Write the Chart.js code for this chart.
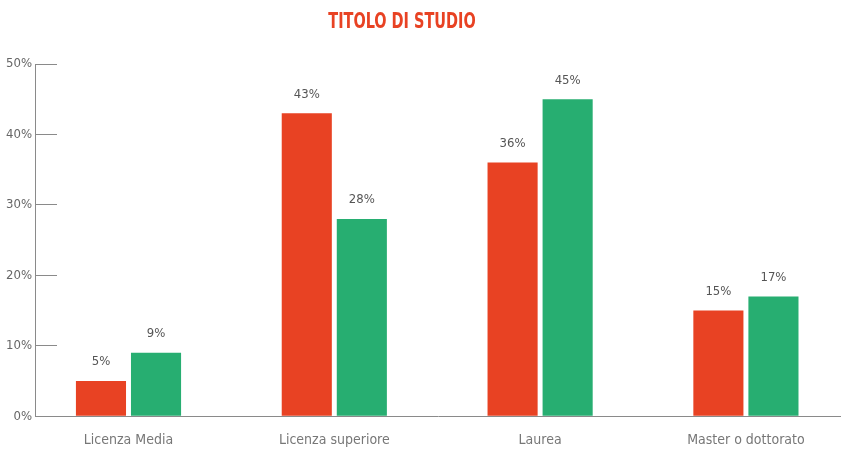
<!DOCTYPE html>
<html>
<head>
<meta charset="utf-8">
<script src="https://cdn.jsdelivr.net/npm/chart.js@4"></script>
<style>
  body { margin: 0; background: #fff; }
  #wrap { position: relative; width: 841px; height: 449px; }
  #title {
    position: absolute; top: 8px; left: 0; width: 804px; text-align: center;
    font-family: "DejaVu Sans Condensed", "Liberation Sans Narrow", sans-serif;
    font-weight: bold; font-size: 22px; color: #e84223;
    transform: scaleX(0.73); transform-origin: 402px 0;
  }
</style>
</head>
<body>
<div id="wrap">
  <div id="title">TITOLO DI STUDIO</div>
  <canvas id="chart" width="841" height="449"></canvas>
</div>
<script>
const categories = ['Licenza Media', 'Licenza superiore', 'Laurea', 'Master o dottorato']
const redValues = [5, 43, 36, 15]
const greenValues = [9, 28, 45, 17]
const yTicks = [0, 10, 20, 30, 40, 50]

const fontName = '"DejaVu Sans Condensed", "Liberation Sans Narrow", sans-serif'

const toPoints = values => values.map((v, i) => ({ x: i, y: v }))

const barLabels = {
    id: 'barLabels',
    afterDatasetsDraw(chart) {
        const ctx = chart.ctx
        ctx.save()
        ctx.font = '13px ' + fontName
        ctx.fillStyle = '#555'
        ctx.textAlign = 'center'
        ctx.textBaseline = 'middle'
        chart.data.datasets.forEach((ds, di) => {
            chart.getDatasetMeta(di).data.forEach((bar, i) => {
                ctx.fillText(ds.data[i].y + '%', bar.x, bar.y - 19)
            })
        })
        ctx.restore()
    }
}

new Chart('chart', {
    type: 'bar',
    data: {
        datasets: [
            { data: toPoints(redValues), backgroundColor: '#e84223' },
            { data: toPoints(greenValues), backgroundColor: '#27ae71' }
        ]
    },
    options: {
        responsive: false,
        animation: false,
        categoryPercentage: 0.535,
        barPercentage: 0.91,
        layout: { padding: { top: 64, right: 0, bottom: 0, left: 0 } },
        plugins: { legend: { display: false }, tooltip: { enabled: false } },
        scales: {
            x: {
                type: 'linear',
                offset: false,
                min: -0.4543,
                max: 3.462,
                afterBuildTicks: scale => { scale.ticks = categories.map((c, i) => ({ value: i })) },
                afterFit: scale => { scale.height = 32 },
                grid: { display: true, drawOnChartArea: false, drawTicks: false, offset: false },
                border: { display: true, color: '#8a8a8a', width: 1 },
                ticks: {
                    padding: 16,
                    color: '#777',
                    font: { family: fontName, size: 14 },
                    callback: (v, i) => categories[i]
                }
            },
            y: {
                min: 0,
                max: 50,
                afterBuildTicks: scale => { scale.ticks = yTicks.map(v => ({ value: v })) },
                afterFit: scale => { scale.width = 35 },
                grid: { drawOnChartArea: false, drawTicks: true, tickLength: -22, color: '#8a8a8a' },
                border: { display: true, color: '#8a8a8a', width: 1 },
                ticks: {
                    padding: 25,
                    color: '#666',
                    font: { family: fontName, size: 13 },
                    callback: v => v + '%'
                }
            }
        }
    },
    plugins: [barLabels]
})
</script>
</body>
</html>
